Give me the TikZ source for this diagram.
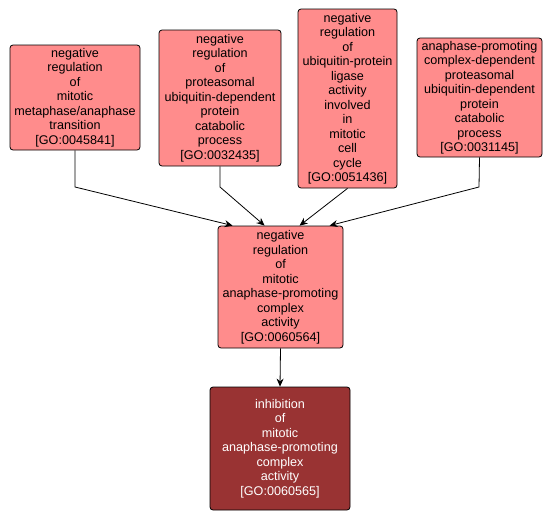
\documentclass[tikz,border=0pt]{standalone}
\usepackage{fontspec}
\setmainfont{Liberation Sans}
\usepackage{tikz}
\usetikzlibrary{arrows.meta,positioning,calc}
\definecolor{termcol}{RGB}{255,140,140}
\definecolor{leafcol}{RGB}{153,51,51}
\tikzset{
  % ordinary GO term box
  goterm/.style={rectangle, rounded corners=3pt, draw=black, fill=termcol, line width=0.8pt,
                 align=center, inner sep=1pt, font=\fontsize{12.6}{14.5}\selectfont},
  % queried term box
  goleaf/.style={goterm, fill=leafcol, text=white},
  % is-a edge
  isa/.style={-{Stealth[length=8pt,width=7pt]}, line width=0.8pt, black},
}
\begin{document}
\begin{tikzpicture}[x=1pt,y=-1pt]
  \useasboundingbox (0,0) rectangle (553,522);
  \node[goterm, minimum width=130pt, minimum height=105pt] (mma) at (75,97.5)
    {negative\\regulation\\of\\mitotic\\metaphase/anaphase\\transition\\{[GO:0045841]}};
  \node[goterm, minimum width=122pt, minimum height=136pt] (prot) at (220,98)
    {negative\\regulation\\of\\proteasomal\\ubiquitin-dependent\\protein\\catabolic\\process\\{[GO:0032435]}};
  \node[goterm, minimum width=99pt, minimum height=179pt] (ligase) at (347.5,98.5)
    {negative\\regulation\\of\\ubiquitin-protein\\ligase\\activity\\involved\\in\\mitotic\\cell\\cycle\\{[GO:0051436]}};
  \node[goterm, minimum width=125pt, minimum height=119pt] (apcdep) at (479.5,97.5)
    {anaphase-promoting\\complex-dependent\\proteasomal\\ubiquitin-dependent\\protein\\catabolic\\process\\{[GO:0031145]}};
  \node[goterm, minimum width=125pt, minimum height=122pt] (negapc) at (280.5,287)
    {negative\\regulation\\of\\mitotic\\anaphase-promoting\\complex\\activity\\{[GO:0060564]}};
  \node[goleaf, minimum width=140pt, minimum height=123pt] (inhapc) at (280,448.5)
    {inhibition\\of\\mitotic\\anaphase-promoting\\complex\\activity\\{[GO:0060565]}};
  % bend points and entry points
  \coordinate (mmabend) at (75,187);
  \coordinate (protbend) at (220,187);
  \coordinate (apcbend) at (479,187);
  \coordinate (in1) at ($(negapc.north west)+(15,0)$);
  \coordinate (in2) at ($(negapc.north west)+(47,0)$);
  \coordinate (in3) at ($(negapc.north west)+(82,0)$);
  \coordinate (in4) at ($(negapc.north west)+(112,0)$);
  \draw[isa] (mma.south) -- (mmabend) -- (in1);
  \draw[isa] (prot.south) -- (protbend) -- (in2);
  \draw[isa] (ligase.south) -- (in3);
  \draw[isa] (apcdep.south) -- (apcbend) -- (in4);
  \draw[isa] (negapc.south) -- (inhapc.north);
\end{tikzpicture}
\end{document}
